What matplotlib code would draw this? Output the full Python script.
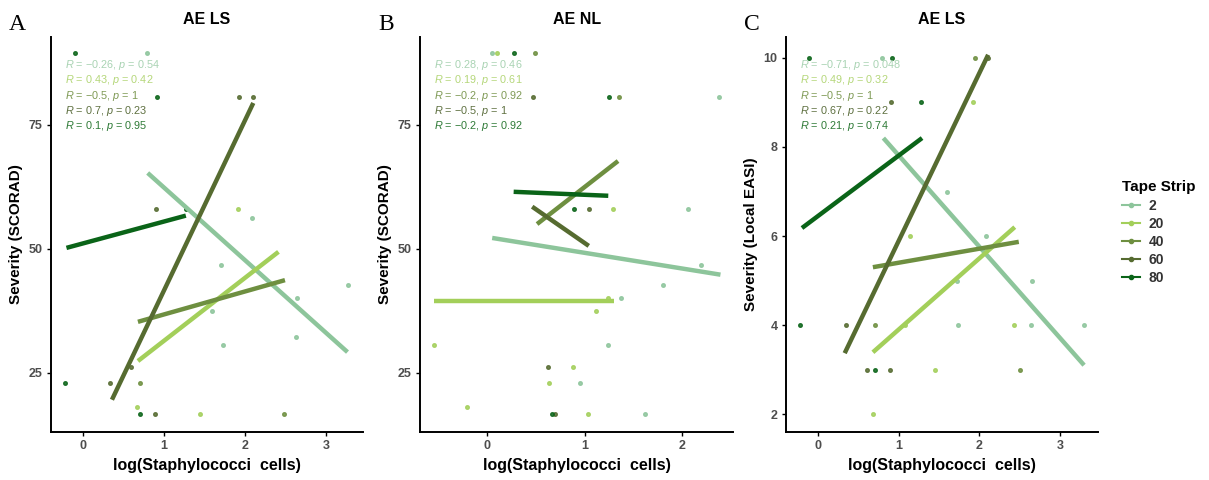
import numpy as np
import matplotlib
matplotlib.use('Agg')
import matplotlib.pyplot as plt
from matplotlib.lines import Line2D

plt.rcParams['font.family'] = ['Liberation Sans', 'DejaVu Sans']
plt.rcParams['mathtext.fontset'] = 'custom'
plt.rcParams['mathtext.it'] = 'Liberation Sans:italic'
plt.rcParams['mathtext.rm'] = 'Liberation Sans'

strips = ['2', '20', '40', '60', '80']
line_colors = ['#8DC59B', '#A3CF5A', '#6E8F40', '#566B30', '#0A6418']
text_colors = ['#A9D3B3', '#B5D77A', '#7F9A55', '#5E7040', '#2E7A36']

# ---- panel A: AE LS, SCORAD ----
a_x = {
    '2': [0.79, 2.08, 1.70, 3.27, 2.64, 1.59, 1.73, 2.62],
    '20': [1.91, 0.67, 1.44],
    '40': [0.70, 2.48],
    '60': [1.93, 2.10, 0.90, 0.60, 0.34, 0.89],
    '80': [-0.10, 0.91, 1.27, -0.22, 0.70],
}
a_y = {
    '2': [89.5, 56.2, 46.8, 42.7, 40.1, 37.5, 30.6, 32.3],
    '20': [58, 18.1, 16.7],
    '40': [23, 16.7],
    '60': [80.6, 80.6, 58, 26.2, 23, 16.7],
    '80': [89.5, 80.6, 58, 23, 16.7],
}
a_fit_x = {'2': [0.80, 3.26], '20': [0.68, 2.41], '40': [0.68, 2.49],
           '60': [0.36, 2.10], '80': [-0.20, 1.27]}
a_fit_y = {'2': [65.3, 29.2], '20': [27.4, 49.4], '40': [35.3, 43.7],
           '60': [19.6, 79.4], '80': [50.2, 56.7]}
a_stats = [('−0.26', '0.54'), ('0.43', '0.42'), ('−0.5', '1'), ('0.7', '0.23'), ('0.1', '0.95')]

# ---- panel B: AE NL, SCORAD ----
b_x = {
    '2': [0.05, 2.37, 2.06, 2.19, 1.80, 1.37, 1.24, 0.95, 1.62],
    '20': [0.10, 1.29, 1.24, 1.11, -0.55, 0.88, 0.63, -0.21, 1.03],
    '40': [0.49, 1.35],
    '60': [0.47, 1.04, 0.62, 0.69],
    '80': [0.27, 1.25, 0.89, 0.66],
}
b_y = {
    '2': [89.5, 80.6, 58, 46.8, 42.7, 40.1, 30.6, 23, 16.7],
    '20': [89.5, 58, 40.1, 37.5, 30.6, 26.2, 23, 18.1, 16.7],
    '40': [89.5, 80.6],
    '60': [80.6, 58, 26.2, 16.7],
    '80': [89.5, 80.6, 58, 16.7],
}
b_fit_x = {'2': [0.05, 2.39], '20': [-0.55, 1.30], '40': [0.51, 1.34],
           '60': [0.46, 1.04], '80': [0.27, 1.24]}
b_fit_y = {'2': [52.2, 44.8], '20': [39.5, 39.5], '40': [55.0, 67.7],
           '60': [58.5, 50.6], '80': [61.5, 60.7]}
b_stats = [('0.28', '0.46'), ('0.19', '0.61'), ('−0.2', '0.92'), ('−0.5', '1'), ('−0.2', '0.92')]

# ---- panel C: AE LS, Local EASI ----
c_x = {
    '2': [0.79, 1.60, 2.08, 1.72, 2.65, 1.73, 2.64, 3.30],
    '20': [1.92, 1.14, 1.08, 1.45, 0.68, 2.43],
    '40': [1.95, 0.70, 2.50],
    '60': [2.11, 0.90, 0.35, 0.61, 0.89],
    '80': [-0.11, 0.92, 1.28, -0.23, 0.70],
}
c_y = {
    '2': [10, 7, 6, 5, 5, 4, 4, 4],
    '20': [9, 6, 4, 3, 2, 4],
    '40': [10, 4, 3],
    '60': [10, 9, 4, 3, 3],
    '80': [10, 10, 9, 4, 3],
}
c_fit_x = {'2': [0.81, 3.30], '20': [0.68, 2.44], '40': [0.68, 2.49],
           '60': [0.33, 2.11], '80': [-0.20, 1.29]}
c_fit_y = {'2': [8.2, 3.1], '20': [3.39, 6.2], '40': [5.3, 5.87],
           '60': [3.37, 10.07], '80': [6.18, 8.2]}
c_stats = [('−0.71', '0.048'), ('0.49', '0.32'), ('−0.5', '1'), ('0.67', '0.22'), ('0.21', '0.74')]

fig = plt.figure(figsize=(12.09, 4.8), dpi=100)

panels = [
    ('A', 'AE LS', 'Severity (SCORAD)', a_x, a_y, a_fit_x, a_fit_y, a_stats,
     [0.0422, 0.1, 0.258, 0.823], (-0.39, 3.45), (13.1, 92.7), [0, 1, 2, 3], [25, 50, 75]),
    ('B', 'AE NL', 'Severity (SCORAD)', b_x, b_y, b_fit_x, b_fit_y, b_stats,
     [0.3474, 0.1, 0.259, 0.823], (-0.69, 2.52), (13.1, 92.7), [0, 1, 2], [25, 50, 75]),
    ('C', 'AE LS', 'Severity (Local EASI)', c_x, c_y, c_fit_x, c_fit_y, c_stats,
     [0.650, 0.1, 0.258, 0.823], (-0.40, 3.47), (1.6, 10.47), [0, 1, 2, 3], [2, 4, 6, 8, 10]),
]

for (letter, title, ylab, px, py, fx, fy, stats, pos, xl, yl, xt, yt) in panels:
    ax = fig.add_axes(pos)
    for s, lc in zip(strips, line_colors):
        ax.plot(px[s], py[s], 'o', color=lc, ms=2.6, alpha=0.85, zorder=2)
        ax.plot(fx[s], fy[s], '-', color=lc, lw=3.2, solid_capstyle='butt', zorder=3)
    for i, ((r, p), tc) in enumerate(zip(stats, text_colors)):
        ax.text(0.045, 0.929 - i * 0.0388, f'$R$ = {r}, $p$ = {p}', transform=ax.transAxes,
                color=tc, fontsize=7.8, va='center', ha='left')
    ax.set_xlim(xl)
    ax.set_ylim(yl)
    ax.set_xticks(xt)
    ax.set_yticks(yt)
    ax.spines['top'].set_visible(False)
    ax.spines['right'].set_visible(False)
    ax.spines['left'].set_linewidth(1.4)
    ax.spines['bottom'].set_linewidth(1.4)
    ax.tick_params(length=3, width=1, labelsize=9, labelcolor='#4d4d4d', pad=3)
    for lab in ax.get_xticklabels() + ax.get_yticklabels():
        lab.set_fontweight('bold')
    ax.set_title(title, fontsize=11.5, fontweight='bold', pad=9)
    ax.set_xlabel('log(Staphylococci  cells)', fontsize=11.5, fontweight='bold', labelpad=4)
    ax.set_ylabel(ylab, fontsize=11, fontweight='bold', labelpad=4)
    fig.text(pos[0] - 0.028, 0.948, letter, family='Liberation Serif', fontsize=17,
             ha='center', va='center')

handles = [Line2D([0], [0], color=c, lw=1.5, marker='o', ms=3) for c in line_colors]
leg = fig.legend(handles, strips, title='Tape Strip', loc='center left',
                 bbox_to_anchor=(0.918, 0.515), frameon=False, fontsize=10,
                 handlelength=1.3, labelspacing=0.3, handletextpad=0.6)
leg.get_title().set_fontweight('bold')
leg.get_title().set_fontsize(11)
leg._legend_box.align = 'left'
for t in leg.get_texts():
    t.set_fontweight('bold')
    t.set_color('#333333')

fig.savefig('out.png', dpi=100)
